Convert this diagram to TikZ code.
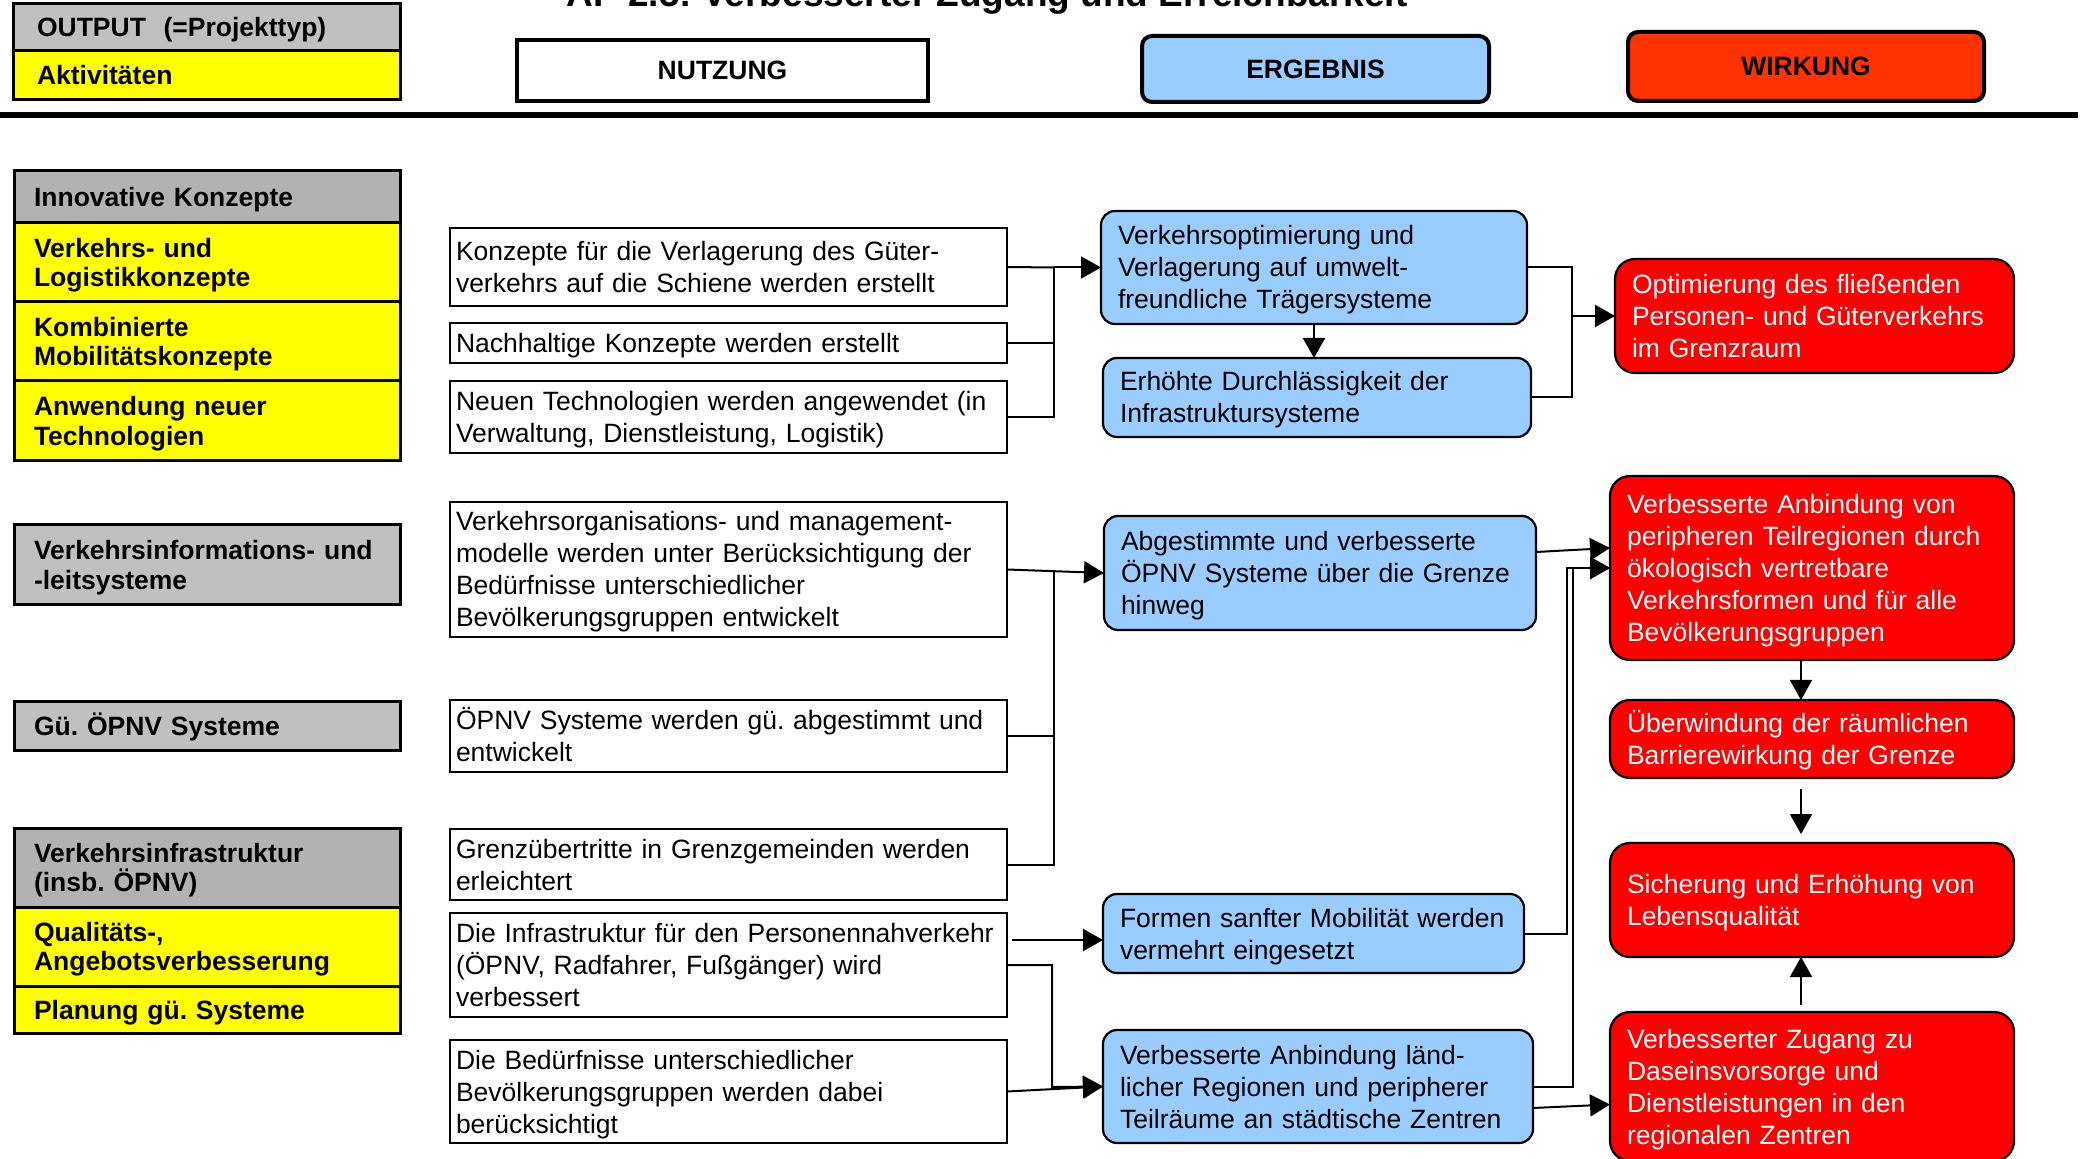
\documentclass[tikz,border=0pt]{standalone}
\usepackage{fontspec}
\setmainfont{Liberation Sans}
\usetikzlibrary{arrows.meta,calc}
\frenchspacing

\definecolor{hblue}{HTML}{99CCFF}
\definecolor{hred}{HTML}{FF0000}
\definecolor{wred}{HTML}{FF3300}
\definecolor{grayA}{HTML}{C0C0C0}
\definecolor{grayB}{HTML}{B2B2B2}
\definecolor{yel}{HTML}{FFFF00}

\newcommand\txtnorm{\fontsize{13.25pt}{16pt}\selectfont}
\newcommand\txtbold{\fontsize{13.25pt}{14.75pt}\selectfont\bfseries}
\newcommand\txttitle{\fontsize{18.5pt}{22pt}\selectfont\bfseries}
% fixed depth for the last line of a box text
\newcommand\lastdepth{\rule[-3pt]{0pt}{3pt}}

\tikzset{
  base/.style={draw=black, anchor=north west, outer sep=0pt, inner ysep=0pt, align=left,
    text height=12.5pt, execute at end node=\lastdepth},
  hdr/.style={base, line width=1.5pt, inner xsep=12pt, text width=169.5pt, font=\txtbold},
  colhead/.style={base, line width=2pt, inner xsep=0pt, align=center, font=\txtbold},
  grp/.style={base, line width=1.5pt, inner xsep=10pt, text width=173pt, font=\txtbold},
  act/.style={base, line width=1pt, fill=white, inner xsep=3pt, text width=272.5pt, font=\txtnorm},
  res/.style={base, line width=1.1pt, fill=hblue, rounded corners=7pt, inner xsep=8.5pt, font=\txtnorm},
  eff/.style={base, line width=1.1pt, fill=hred, text=white, rounded corners=10pt, inner xsep=8.5pt, font=\txtnorm},
  conn/.style={draw=black, line width=1pt},
  arr/.style={conn, -{Triangle[length=10pt,width=11pt]}},
}

\begin{document}
\begin{tikzpicture}[x=0.5pt,y=-0.5pt]
\useasboundingbox (0,0) rectangle (2082,1159);
\clip (0,0) rectangle (2082,1159);

% title
\node[font=\txttitle, anchor=base, inner sep=0pt] (title) at (987,6.5)
  {AP 2.5: Verbesserter Zugang und Erreichbarkeit};

% legend and column heads
\node[hdr, fill=grayA, minimum height=23.5pt] (outhead) at (13,4) {OUTPUT~~(=Projekttyp)};
\node[hdr, fill=yel, minimum height=24.5pt] (akthead) at (13,51) {Aktivitäten};
\node[colhead, fill=white, minimum width=205.5pt, minimum height=30.5pt] (nutzung) at (517,40) {NUTZUNG};
\node[colhead, fill=hblue, rounded corners=5pt, minimum width=173.5pt, minimum height=33pt] (ergebnis) at (1142,36) {ERGEBNIS};
\node[colhead, fill=wred, rounded corners=5pt, minimum width=178pt, minimum height=34.5pt] (wirkung) at (1628,32) {WIRKUNG};

\draw[line width=2.6pt] (0,115) -- (2078,115);

% project types and activities
\node[grp, fill=grayB, minimum height=26pt] (g1) at (14,171) {Innovative Konzepte};
\node[grp, fill=yel, minimum height=39.5pt] (y1) at (14,223) {Verkehrs- und\\Logistikkonzepte};
\node[grp, fill=yel, minimum height=39.5pt] (y2) at (14,302) {Kombinierte\\Mobilitätskonzepte};
\node[grp, fill=yel, minimum height=40pt] (y3) at (14,381) {Anwendung neuer\\Technologien};
\node[grp, fill=grayA, minimum height=40pt] (g2) at (14,525) {Verkehrsinformations- und\\-leitsysteme};
\node[grp, fill=grayA, minimum height=24pt] (g3) at (14,702) {Gü. ÖPNV Systeme};
\node[grp, fill=grayB, minimum height=39.5pt] (g4) at (14,828) {Verkehrsinfrastruktur\\(insb. ÖPNV)};
\node[grp, fill=yel, minimum height=39.5pt] (y4) at (14,907) {Qualitäts-,\\Angebotsverbesserung};
\node[grp, fill=yel, minimum height=23.5pt] (y5) at (14,986) {Planung gü. Systeme};

% use
\node[act, minimum height=39pt] (a1) at (450,228) {Konzepte für die Verlagerung des Güter-\\verkehrs auf die Schiene werden erstellt};
\node[act, minimum height=20pt] (a2) at (450,323) {Nachhaltige Konzepte werden erstellt};
\node[act, minimum height=36pt] (a3) at (450,381) {Neuen Technologien werden angewendet (in\\Verwaltung, Dienstleistung, Logistik)};
\node[act, minimum height=67.5pt] (a4) at (450,502) {Verkehrsorganisations- und management-\\modelle werden unter Berücksichtigung der\\Bedürfnisse unterschiedlicher\\Bevölkerungsgruppen entwickelt};
\node[act, minimum height=36pt] (a5) at (450,700) {ÖPNV Systeme werden gü. abgestimmt und\\entwickelt};
\node[act, minimum height=35.5pt] (a6) at (450,829) {Grenzübertritte in Grenzgemeinden werden\\erleichtert};
\node[act, minimum height=52pt] (a7) at (450,913) {Die Infrastruktur für den Personennahverkehr\\(ÖPNV, Radfahrer, Fußgänger) wird\\verbessert};
\node[act, minimum height=51.5pt] (a8) at (450,1040) {Die Bedürfnisse unterschiedlicher\\Bevölkerungsgruppen werden dabei\\berücksichtigt};

% results
\node[res, text width=196pt, minimum height=56.5pt] (b1) at (1101,211) {Verkehrsoptimierung und\\Verlagerung auf umwelt-\\freundliche Trägersysteme};
\node[res, text width=197pt, minimum height=39.5pt] (b2) at (1103,358) {Erhöhte Durchlässigkeit der\\Infrastruktursysteme};
\node[res, text width=199pt, minimum height=57pt] (b3) at (1104,516) {Abgestimmte und verbesserte\\ÖPNV Systeme über die Grenze\\hinweg};
\node[res, text width=193.5pt, minimum height=39.5pt] (b4) at (1103,894) {Formen sanfter Mobilität werden\\vermehrt eingesetzt};
\node[res, text width=198pt, minimum height=56.5pt] (b5) at (1103,1030) {Verbesserte Anbindung länd-\\licher Regionen und peripherer\\Teilräume an städtische Zentren};

% effects
\node[eff, text width=182.5pt, minimum height=57pt] (r1) at (1615,259) {Optimierung des fließenden\\Personen- und Güterverkehrs\\im Grenzraum};
\node[eff, text width=185pt, minimum height=92pt] (r2) at (1610,476) {Verbesserte Anbindung von\\peripheren Teilregionen durch\\ökologisch vertretbare\\Verkehrsformen und für alle\\Bevölkerungsgruppen};
\node[eff, text width=185pt, minimum height=39pt] (r3) at (1610,700) {Überwindung der räumlichen\\Barrierewirkung der Grenze};
\node[eff, text width=185pt, minimum height=57pt] (r4) at (1610,843) {Sicherung und Erhöhung von\\Lebensqualität};
\node[eff, text width=185pt, minimum height=74.5pt] (r5) at (1610,1012) {Verbesserter Zugang zu\\Daseinsvorsorge und\\Dienstleistungen in den\\regionalen Zentren};

% junction points
\coordinate (j1) at (1054,267.5);
\coordinate (j2) at (1572,316);
\coordinate (j3) at (1054,571);
\coordinate (j4) at (1052,1087);
\coordinate (j5) at (1567,568);
\coordinate (j6) at (1573,568);
\coordinate (ax) at (1801,0);

% first block
\draw[conn] (a1.east) -- (j1);
\draw[conn] (a2.east) -| (j1);
\draw[conn] (a3.east) -| (j1);
\draw[arr] (j1) -- (b1.west);
\draw[arr] (b1.south) -- (b1.south |- b2.north);
\draw[conn] (b1.east) -| (j2);
\draw[conn] (b2.east) -| (j2);
\draw[arr] (j2) -- (r1.west);

% second block
\draw[arr] (a4.east) -- (b3.west);
\draw[conn] (a6.east) -| (j3);
\draw[conn] (a5.east) -- (a5.east -| j3);
\draw[arr] ([yshift=10.5pt]b3.east) -- ([yshift=10pt]r2.west);
\draw[arr] (b4.east) -| (j5) -- (r2.west);
\draw[arr] (b5.east) -| (j6) -- (r2.west);
\draw[arr] ($(a7.east)+(5,-25)$) -- ($(b4.west)+(0,6.5)$);
\draw[arr] (a7.east) -| (j4) -- (b5.west);
\draw[arr] (a8.east) -- (b5.west);
\draw[arr] ([yshift=-10.75pt]b5.east) -- ([yshift=-9pt]r5.west);

% effect chain
\draw[arr] (r2.south -| ax) -- (r3.north -| ax);
\draw[arr] ($(r3.south -| ax)+(0,11)$) -- ($(r4.north -| ax)+(0,-9)$);
\draw[arr] ($(r5.north -| ax)+(0,-7)$) -- (r4.south -| ax);
\end{tikzpicture}
\end{document}
